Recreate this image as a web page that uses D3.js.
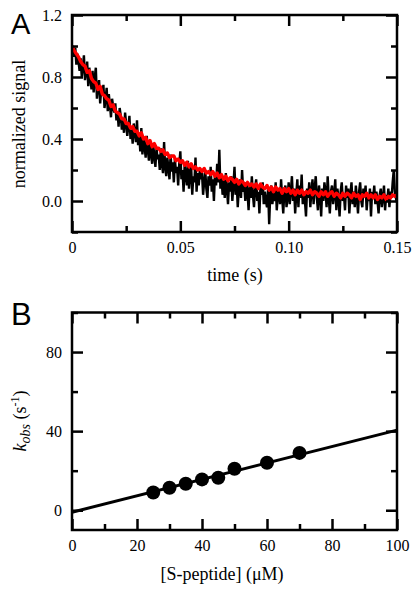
<!DOCTYPE html>
<html><head><meta charset="utf-8">
<script src="https://cdn.jsdelivr.net/npm/d3@7"></script>
<style>
html,body{margin:0;padding:0;background:#fff;}
svg{display:block;font-family:"Liberation Serif","Times New Roman",serif;}
svg text{font-family:"Liberation Serif","Times New Roman",serif;}
svg text.panel{font-family:"Liberation Sans",Arial,sans-serif;}
</style></head>
<body>
<svg id="chart" width="420" height="591"></svg>
<script>
// ---------- Panel A data (time step 0.5 ms) ----------
const blackStepMs = 0.5;
const blackSignal = [
 1.00,0.97,0.93,0.99,0.88,0.95,0.90,0.84,0.92,0.80,0.86,0.94,0.78,0.83,0.90,0.74,0.86,0.79,0.72,0.84,
 0.70,0.80,0.86,0.66,0.74,0.78,0.63,0.72,0.68,0.75,0.60,0.66,0.73,0.58,0.69,0.62,0.54,0.66,0.61,0.57,
 0.63,0.52,0.58,0.48,0.60,0.55,0.46,0.52,0.44,0.57,0.50,0.42,0.48,0.55,0.40,0.46,0.37,0.50,0.44,0.38,
 0.52,0.36,0.44,0.32,0.47,0.30,0.40,0.35,0.28,0.42,0.33,0.26,0.38,0.30,0.24,0.36,0.29,0.22,0.34,0.27,
 0.30,0.20,0.34,0.24,0.18,0.38,0.22,0.16,0.28,0.21,0.14,0.30,0.19,0.25,0.12,0.27,0.18,0.22,0.10,0.24,
 0.32,0.14,0.20,0.06,0.24,0.17,0.10,0.26,0.08,0.18,0.22,0.04,0.16,0.12,0.28,0.06,0.18,0.10,0.20,0.14,
 0.18,0.04,0.12,0.20,0.08,0.02,0.16,0.10,0.22,0.06,0.14,0.00,0.18,0.10,0.24,0.12,0.33,0.08,0.16,0.04,
 0.14,0.02,0.18,0.08,-0.02,0.12,0.06,0.16,0.00,0.10,0.22,0.04,0.12,-0.04,0.08,0.14,0.02,0.20,0.06,0.10,
 0.00,0.12,0.06,-0.06,0.10,0.02,0.16,0.04,-0.04,0.08,0.14,0.00,0.06,-0.08,0.10,0.04,0.12,-0.02,0.06,0.00,
 -0.04,0.08,-0.15,0.04,0.10,-0.02,0.06,0.00,0.12,-0.06,0.04,0.08,-0.02,0.14,0.02,-0.08,0.06,0.10,-0.04,0.02,
 0.12,-0.02,0.06,0.16,0.00,0.08,-0.08,0.04,0.14,-0.04,0.10,0.02,0.17,-0.02,0.06,0.00,-0.10,0.08,0.02,0.12,
 -0.04,0.06,0.14,-0.02,0.08,0.16,0.02,-0.06,0.10,0.04,-0.10,0.08,0.00,0.12,0.06,-0.04,0.16,0.02,-0.08,0.06,
 0.10,-0.02,0.04,0.14,-0.06,0.08,0.02,-0.10,0.06,0.12,0.00,0.04,-0.06,0.10,0.02,0.08,-0.08,0.04,0.12,-0.02,
 0.06,-0.04,0.10,0.02,-0.08,0.06,0.12,0.00,-0.04,0.08,0.02,0.10,-0.06,0.04,0.00,0.08,-0.10,0.06,0.02,0.10,
 -0.02,0.06,0.00,-0.08,0.04,0.08,-0.04,0.02,0.10,-0.06,0.04,0.00,0.08,-0.04,0.06,0.02,0.12,0.20,0.06,0.02,0.04
];
const redStepMs = 1;
const redSignal = [
 1.00,0.97,0.95,0.93,0.90,0.88,0.87,0.83,0.84,0.79,
 0.77,0.76,0.72,0.74,0.69,0.68,0.66,0.65,0.61,0.62,
 0.58,0.57,0.56,0.53,0.53,0.50,0.50,0.47,0.48,0.45,
 0.45,0.42,0.44,0.40,0.41,0.37,0.39,0.35,0.37,0.34,
 0.34,0.32,0.33,0.30,0.31,0.28,0.29,0.29,0.26,0.27,
 0.25,0.26,0.23,0.25,0.22,0.24,0.21,0.22,0.20,0.21,
 0.19,0.21,0.18,0.19,0.17,0.19,0.16,0.18,0.15,0.17,
 0.14,0.16,0.13,0.15,0.14,0.12,0.14,0.11,0.13,0.12,
 0.10,0.12,0.10,0.11,0.09,0.11,0.08,0.11,0.09,0.08,
 0.10,0.07,0.09,0.06,0.09,0.07,0.08,0.05,0.08,0.06,
 0.08,0.05,0.07,0.04,0.07,0.05,0.07,0.04,0.06,0.05,
 0.07,0.04,0.06,0.05,0.03,0.06,0.04,0.06,0.03,0.05,
 0.06,0.03,0.05,0.04,0.02,0.05,0.03,0.05,0.04,0.02,
 0.05,0.03,0.04,0.01,0.04,0.03,0.05,0.02,0.04,0.02,
 0.04,0.01,0.03,0.02,0.04,0.01,0.03,0.02,0.04,0.03,0.04
];
const aXMajor = [0, 0.05, 0.10, 0.15];
const aXLabels = ["0", "0.05", "0.10", "0.15"];
const aXMinor = [0.025, 0.075, 0.125];
const aYMajor = [0.0, 0.4, 0.8, 1.2];
const aYLabels = ["0.0", "0.4", "0.8", "1.2"];
const aYMinor = [-0.2, 0.2, 0.6, 1.0];

// ---------- Panel B data ----------
const peptideConc = [25, 30, 35, 40, 45, 50, 60, 70];
const kobs = [9.0, 11.4, 13.4, 15.6, 16.4, 21.0, 24.0, 29.0];
const fitConc = [0, 100];
const fitK = [-1.0, 40.5];
const bXMajor = [0, 20, 40, 60, 80, 100];
const bXLabels = ["0", "20", "40", "60", "80", "100"];
const bXMinor = [10, 30, 50, 70, 90];
const bYMajor = [0, 40, 80];
const bYLabels = ["0", "40", "80"];
const bYMinor = [20, 60, 100];

// ---------- drawing ----------
const svg = d3.select("#chart");
const frameW = 2.5, majorLen = 11, minorLen = 6, tickFont = 16, titleFont = 18;
const serif = "Liberation Serif, Times New Roman, serif";

function frameAxes(g, x, y, xMaj, xLab, xMin, yMaj, yLab, yMin) {
  const [x0, x1] = x.range(), [y0, y1] = y.range();
  const w = x1 - x0, h = y0 - y1;
  function ax(gen, tx, ty, vals, len, labels) {
    const a = gen.tickValues(vals).tickSize(-len).tickPadding(labels ? 10 : 0)
      .tickFormat(labels ? ((d, i) => labels[i]) : () => "");
    const s = g.append("g").attr("transform", `translate(${tx},${ty})`).call(a);
    s.attr("font-family", serif).attr("font-size", tickFont);
    s.select(".domain").remove();
    s.selectAll(".tick line").attr("stroke", "#000").attr("stroke-width", 2.5);
    s.selectAll(".tick text").attr("fill", "#000")
      .style("font-family", serif).style("font-size", tickFont + "px");
    return s;
  }
  ax(d3.axisBottom(x), 0, y0, xMaj, majorLen, xLab);
  ax(d3.axisBottom(x), 0, y0, xMin, minorLen, null);
  ax(d3.axisTop(x), 0, y1, xMaj, majorLen, null);
  ax(d3.axisTop(x), 0, y1, xMin, minorLen, null);
  ax(d3.axisLeft(y), x0, 0, yMaj, majorLen, yLab);
  ax(d3.axisLeft(y), x0, 0, yMin, minorLen, null);
  ax(d3.axisRight(y), x1, 0, yMaj, majorLen, null);
  ax(d3.axisRight(y), x1, 0, yMin, minorLen, null);
  g.append("rect").attr("x", x0).attr("y", y1).attr("width", w).attr("height", h)
    .attr("fill", "none").attr("stroke", "#000").attr("stroke-width", frameW);
}

// Panel A
const xA = d3.scaleLinear().domain([0, 0.15]).range([72, 397]);
const yA = d3.scaleLinear().domain([-0.2, 1.2]).range([232, 15]);
const gA = svg.append("g");
svg.append("defs").append("clipPath").attr("id", "clipA")
  .append("rect").attr("x", 72).attr("y", 15).attr("width", 325).attr("height", 217);
const plotA = gA.append("g").attr("clip-path", "url(#clipA)");
plotA.append("path").datum(blackSignal)
  .attr("d", d3.line().x((d, i) => xA(i * blackStepMs / 1000)).y(d => yA(d)))
  .attr("fill", "none").attr("stroke", "#000").attr("stroke-width", 2.4);
plotA.append("path").datum(redSignal)
  .attr("d", d3.line().x((d, i) => xA(i * redStepMs / 1000)).y(d => yA(d)))
  .attr("fill", "none").attr("stroke", "#ff0000").attr("stroke-width", 3.4).attr("stroke-linejoin", "round");
frameAxes(gA, xA, yA, aXMajor, aXLabels, aXMinor, aYMajor, aYLabels, aYMinor);
gA.append("text").attr("x", 235).attr("y", 281).attr("text-anchor", "middle")
  .attr("font-size", titleFont).text("time (s)");
gA.append("text").attr("transform", "translate(25,124) rotate(-90)").attr("text-anchor", "middle")
  .attr("font-size", titleFont).text("normalized signal");
svg.append("text").attr("class", "panel").attr("x", 11).attr("y", 34)
  .attr("font-size", 29).text("A");

// Panel B
const xB = d3.scaleLinear().domain([0, 100]).range([72, 397]);
const yB = d3.scaleLinear().domain([-10, 100]).range([530, 312.5]);
const gB = svg.append("g");
gB.append("path").datum(fitConc.map((c, i) => [c, fitK[i]]))
  .attr("d", d3.line().x(d => xB(d[0])).y(d => yB(d[1])))
  .attr("fill", "none").attr("stroke", "#000").attr("stroke-width", 3);
gB.selectAll("circle").data(peptideConc).enter().append("circle")
  .attr("cx", d => xB(d)).attr("cy", (d, i) => yB(kobs[i])).attr("r", 7).attr("fill", "#000");
frameAxes(gB, xB, yB, bXMajor, bXLabels, bXMinor, bYMajor, bYLabels, bYMinor);
gB.append("text").attr("x", 222).attr("y", 580).attr("text-anchor", "middle")
  .attr("font-size", titleFont).text("[S-peptide] (\u03BCM)");
const yl = gB.append("text").attr("transform", "translate(26,421) rotate(-90)")
  .attr("text-anchor", "middle").attr("font-size", titleFont);
yl.append("tspan").attr("font-style", "italic").text("k");
yl.append("tspan").attr("font-style", "italic").attr("font-size", 14).attr("dy", 4).text("obs");
yl.append("tspan").attr("dy", -4).text(" (s");
yl.append("tspan").attr("font-size", 12).attr("dy", -7).text("-1");
yl.append("tspan").attr("dy", 7).text(")");
svg.append("text").attr("class", "panel").attr("x", 11).attr("y", 325)
  .attr("font-size", 31).text("B");
</script>
</body></html>
